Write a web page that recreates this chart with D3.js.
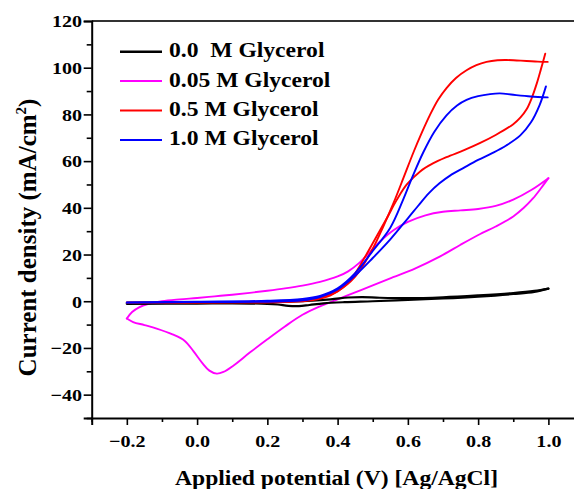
<!DOCTYPE html>
<html>
<head>
<meta charset="utf-8">
<script src="https://cdn.jsdelivr.net/npm/d3@7"></script>
<style>
  html, body { margin: 0; padding: 0; background: #fff; }
  svg { display: block; }
  text { font-family: "Liberation Serif", "Times New Roman", serif; font-weight: bold; fill: #000; }
</style>
</head>
<body>
<svg id="chart" width="574" height="489"></svg>
<script>
// ---- Data (E in V vs Ag/AgCl, J in mA/cm^2): anodic (forward) and cathodic (reverse) sweeps ----
const seriesNames = ["0.0  M Glycerol", "0.05 M Glycerol", "0.5 M Glycerol", "1.0 M Glycerol"];
const seriesColors = ["#000000", "#ff00ff", "#ff0000", "#0000ff"];

const g000Forward = [
  [-0.2,-0.8],[0,-0.6],[0.2,-0.4],[0.3,0],[0.38,0.8],[0.43,1.6],[0.47,1.8],[0.52,1.5],[0.6,1.3],
  [0.7,1.7],[0.8,2.5],[0.9,3.5],[0.96,4.4],[1.0,5.4]
];
const g000Reverse = [
  [1.0,5.4],[0.96,4.0],[0.9,3.1],[0.8,2.0],[0.7,1.2],[0.6,0.6],[0.5,0.0],[0.42,-0.4],[0.36,-0.9],
  [0.32,-1.6],[0.29,-2.1],[0.26,-2.0],[0.23,-1.4],[0.2,-1.1],[0.1,-0.9],[0,-1.0],[-0.2,-1.1]
];
const g005Forward = [
  [-0.2,-7.4],[-0.185,-4.6],[-0.165,-2.6],[-0.14,-1.2],[-0.1,0],[-0.05,0.8],[0,1.4],[0.05,2.1],
  [0.1,2.8],[0.15,3.6],[0.2,4.5],[0.25,5.5],[0.3,6.7],[0.35,8.3],[0.4,10.6],[0.43,12.8],
  [0.46,16.2],[0.49,20.8],[0.52,25.5],[0.56,30.5],[0.6,34],[0.65,36.8],[0.7,38.3],[0.75,38.9],
  [0.8,39.5],[0.85,40.8],[0.9,43.5],[0.95,47.5],[1.0,52.7]
];
const g005Reverse = [
  [1.0,52.7],[0.98,48.6],[0.956,44],[0.93,40],[0.9,36.3],[0.85,32],[0.806,28.8],[0.75,24.2],
  [0.692,19.2],[0.62,14],[0.558,10.3],[0.5,6.8],[0.45,3.8],[0.4,0.8],[0.35,-2.2],[0.3,-5.8],
  [0.25,-10.8],[0.2,-16.3],[0.15,-22],[0.103,-27.6],[0.075,-30.3],[0.056,-31],[0.035,-29.7],
  [0.015,-26.5],[-0.01,-21.5],[-0.035,-17],[-0.07,-14.2],[-0.115,-11.7],[-0.15,-10.2],
  [-0.182,-8.9],[-0.2,-7.4]
];
const g050Forward = [
  [-0.2,-0.5],[0,-0.3],[0.2,-0.1],[0.3,0.4],[0.35,1.6],[0.4,4.3],[0.45,10.5],[0.5,22.5],[0.53,32],
  [0.559,42],[0.588,53],[0.616,63.8],[0.64,72.3],[0.663,79.8],[0.686,86.3],[0.71,91.3],[0.737,95.6],
  [0.767,98.9],[0.795,101.1],[0.824,102.5],[0.855,103.2],[0.881,103.3],[0.91,103.1],[0.938,102.9],
  [0.97,102.6],[0.998,102.5]
];
const g050Reverse = [
  [0.991,106],[0.979,99.5],[0.967,93.3],[0.952,86.8],[0.938,82.2],[0.92,78.6],[0.9,75.8],[0.85,71.2],
  [0.806,67.8],[0.76,64.7],[0.71,61.7],[0.67,58.9],[0.635,55.6],[0.597,50],[0.568,43.3],[0.54,35.5],
  [0.51,27.5],[0.48,19.5],[0.45,12],[0.42,6.5],[0.38,2.5],[0.33,0.5],[0.25,-0.4],[0.1,-0.6],[-0.2,-0.6]
];
const g100Forward = [
  [-0.2,-0.5],[0,-0.2],[0.2,0.2],[0.3,1],[0.35,2.3],[0.4,5.5],[0.45,12],[0.5,21.5],[0.55,31.5],
  [0.586,43.3],[0.615,54],[0.644,63.8],[0.675,72.5],[0.71,79.6],[0.74,83.8],[0.767,86.2],[0.8,87.8],
  [0.834,88.7],[0.862,89],[0.9,88.4],[0.95,87.7],[0.998,87.3]
];
const g100Reverse = [
  [0.993,92],[0.975,84],[0.95,76.5],[0.92,71],[0.88,66.7],[0.84,63.4],[0.8,60.5],[0.76,57.2],
  [0.72,53.8],[0.69,50.5],[0.66,46.3],[0.63,41],[0.6,35.5],[0.55,26.5],[0.5,18.5],[0.45,11],
  [0.4,5],[0.35,1.8],[0.3,0.4],[0.2,-0.2],[0,-0.4],[-0.2,-0.6]
];
const seriesSweeps = [
  [g000Forward, g000Reverse],
  [g005Forward, g005Reverse],
  [g050Forward, g050Reverse],
  [g100Forward, g100Reverse]
];
const drawOrder = [1, 0, 2, 3];

const xMajorTicks = [-0.2, 0.0, 0.2, 0.4, 0.6, 0.8, 1.0];
const xMinorTicks = [-0.3, -0.1, 0.1, 0.3, 0.5, 0.7, 0.9];
const yMajorTicks = [-40, -20, 0, 20, 40, 60, 80, 100, 120];
const yMinorTicks = [-50, -30, -10, 10, 30, 50, 70, 90, 110];

const xTitle = "Applied potential (V) [Ag/AgCl]";

// ---- Layout ----
const svg = d3.select("#chart");
const L = 91.7, T = 21, B = 418;
const SX = 1.18; // horizontal text stretch
const x = d3.scaleLinear().domain([-0.3, 1.1]).range([L, L + 14 * 35.13]);
const y = d3.scaleLinear().domain([-50, 120]).range([B, T]);

// Top frame line
svg.append("line").attr("x1", L).attr("x2", x(1.1)).attr("y1", T).attr("y2", T)
  .attr("stroke", "#333").attr("stroke-width", 2);

// X axis
const xAxisG = svg.append("g").attr("transform", `translate(0,${B})`);
xAxisG.call(d3.axisBottom(x).tickValues(xMajorTicks).tickSize(7).tickFormat(d3.format(".1f")));
const xMinorG = svg.append("g").attr("transform", `translate(0,${B})`);
xMinorG.call(d3.axisBottom(x).tickValues(xMinorTicks).tickSize(4).tickFormat(""));
xMinorG.select(".domain").remove();

// Y axis
const yAxisG = svg.append("g").attr("transform", `translate(${L},0)`);
yAxisG.call(d3.axisLeft(y).tickValues(yMajorTicks).tickSize(8).tickFormat(d3.format("d")));
const yMinorG = svg.append("g").attr("transform", `translate(${L},0)`);
yMinorG.call(d3.axisLeft(y).tickValues(yMinorTicks).tickSize(5).tickFormat(""));
yMinorG.select(".domain").remove();

svg.selectAll(".domain").attr("stroke", "#000").attr("stroke-width", 2);
svg.selectAll(".tick line").attr("stroke", "#000").attr("stroke-width", 1.6);

xAxisG.selectAll(".tick text")
  .attr("y", 29.5).attr("dy", null)
  .attr("transform", `scale(${SX},1)`)
  .style("font-size", "17px").style("font-family", '"Liberation Serif", serif').style("font-weight", "bold");
yAxisG.selectAll(".tick text")
  .attr("x", -9.7 / SX).attr("dy", "0.34em")
  .attr("transform", `scale(${SX},1)`)
  .style("font-size", "17px").style("font-family", '"Liberation Serif", serif').style("font-weight", "bold");

// Curves: each sweep is its own path
const line = d3.line().x(d => x(d[0])).y(d => y(d[1])).curve(d3.curveCatmullRom.alpha(0.5));
drawOrder.forEach(i => {
  seriesSweeps[i].forEach(sweep => {
    svg.append("path").datum(sweep)
      .attr("d", line)
      .attr("fill", "none")
      .attr("stroke", seriesColors[i])
      .attr("stroke-width", i === 0 ? 2.2 : 1.9)
      .attr("stroke-linejoin", "round")
      .attr("stroke-linecap", "round");
  });
});

// Legend
seriesNames.forEach((name, i) => {
  const ly = 51.7 + i * 29.4;
  svg.append("line").attr("x1", 120).attr("x2", 162).attr("y1", ly).attr("y2", ly)
    .attr("stroke", seriesColors[i]).attr("stroke-width", i === 0 ? 2.4 : 2);
  svg.append("g").attr("transform", `translate(169,${ly + 5.5})`)
    .append("text")
    .attr("transform", `scale(${SX},1)`)
    .style("font-size", "20px").style("white-space", "pre")
    .text(name);
});

// X title
svg.append("g").attr("transform", "translate(336.5,485)")
  .append("text").attr("text-anchor", "middle")
  .attr("transform", `scale(${SX},1)`)
  .style("font-size", "20px")
  .text(xTitle);

// Y title
const yt = svg.append("text")
  .attr("transform", "translate(35.5,237.5) rotate(-90)")
  .attr("text-anchor", "middle")
  .style("font-size", "25px");
yt.append("tspan").text("Current density (mA/cm");
yt.append("tspan").attr("dy", -10).style("font-size", "15px").text("2");
yt.append("tspan").attr("dy", 10).text(")");
</script>
</body>
</html>
